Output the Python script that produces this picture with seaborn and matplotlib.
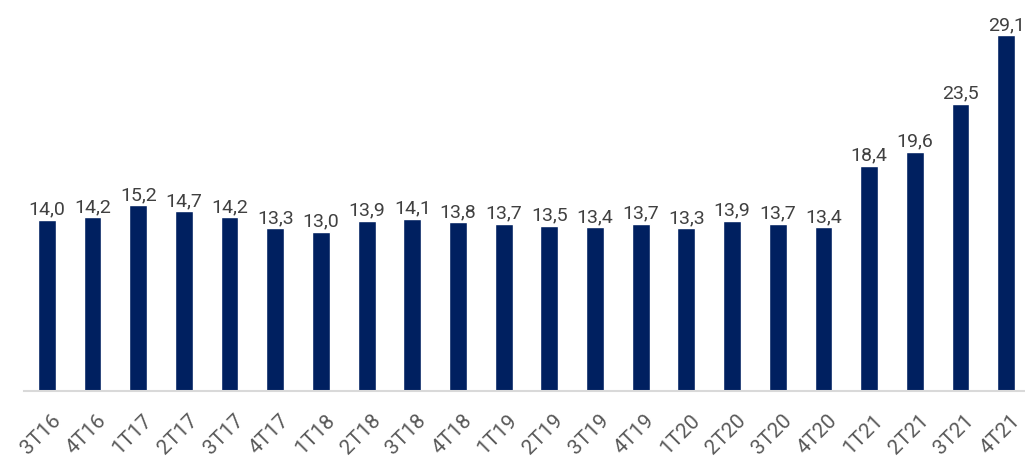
import numpy as np
import pandas as pd
import matplotlib
matplotlib.use("Agg")
import matplotlib.pyplot as plt
import matplotlib.transforms as mtrans
import seaborn as sns

trimestres = ["3T16", "4T16", "1T17", "2T17", "3T17", "4T17", "1T18", "2T18",
              "3T18", "4T18", "1T19", "2T19", "3T19", "4T19", "1T20", "2T20",
              "3T20", "4T20", "1T21", "2T21", "3T21", "4T21"]
valores = [14.0, 14.2, 15.2, 14.7, 14.2, 13.3, 13.0, 13.9, 14.1, 13.8, 13.7,
           13.5, 13.4, 13.7, 13.3, 13.9, 13.7, 13.4, 18.4, 19.6, 23.5, 29.1]

sns.set_style("white")
plt.rcParams['font.family'] = ['Roboto', 'DejaVu Sans']

df = pd.DataFrame({"trim": trimestres, "val": valores})

fig = plt.figure(figsize=(10.25, 4.58), dpi=100)
ax = fig.add_axes([24/1025, 67/458, 1005/1025, 391/458])
sns.barplot(data=df, x="trim", y="val", color="#002060", width=0.39,
            saturation=1, ax=ax)

# etiquetas de valor con coma decimal
for i, v in enumerate(valores):
    ax.annotate(f"{v:.1f}".replace(".", ","), (i, v), xytext=(0, 1),
                textcoords="offset points", ha="center", va="bottom",
                fontsize=14, color="#404040")

ax.set_ylim(0, 32)
ax.set_xlim(-0.5, 21.5)
ax.set_xlabel("")
ax.set_ylabel("")
ax.set_yticks([])
for s in ["top", "left", "right"]:
    ax.spines[s].set_visible(False)
ax.spines["bottom"].set_color("#d9d9d9")
ax.spines["bottom"].set_linewidth(1.5)

ax.set_xticks(np.arange(-0.5, 22, 1), minor=True)
ax.tick_params(axis="x", which="minor", length=6, width=1.5, color="#d9d9d9",
               direction="out")
ax.tick_params(axis="x", which="major", length=0, pad=14)
desplaz = mtrans.ScaledTranslation(4/100, 0, fig.dpi_scale_trans)
for lbl in ax.get_xticklabels():
    lbl.set_rotation(45)
    lbl.set_ha("right")
    lbl.set_rotation_mode("anchor")
    lbl.set_fontsize(15)
    lbl.set_color("#595959")
    lbl.set_transform(lbl.get_transform() + desplaz)

fig.savefig("out.png", dpi=100)
